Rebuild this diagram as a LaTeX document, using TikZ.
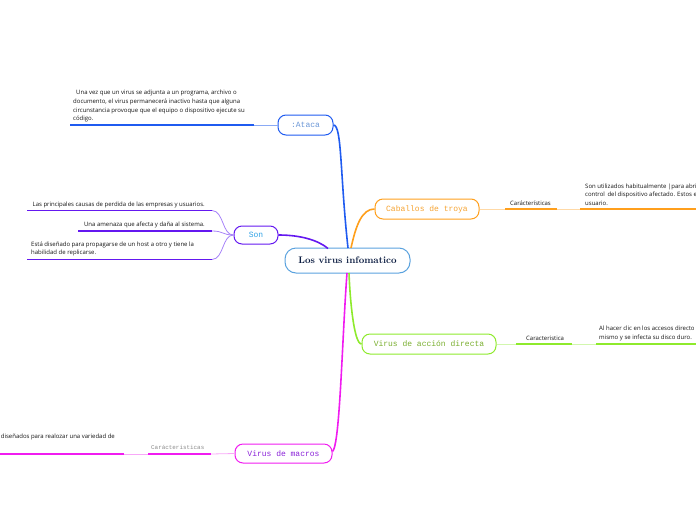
\documentclass[tikz,border=0pt]{standalone}
\usepackage{fontspec}
\setmonofont{Liberation Mono}
\newfontfamily\smallsans{Open Sans}
\definecolor{cblue}{HTML}{1F5BF0}
\definecolor{cbluel}{HTML}{8AAAF5}
\definecolor{cbluet}{HTML}{6A96D6}
\definecolor{cpurp}{HTML}{6418F0}
\definecolor{cpurpl}{HTML}{A884F8}
\definecolor{csont}{HTML}{2FA2E6}
\definecolor{corg}{HTML}{FF9F1C}
\definecolor{corgl}{HTML}{FFD9A6}
\definecolor{corgt}{HTML}{F5A332}
\definecolor{cgrn}{HTML}{8EEA2C}
\definecolor{cgrnl}{HTML}{D2F7AE}
\definecolor{cgrnt}{HTML}{79AE2E}
\definecolor{cmag}{HTML}{F01CF0}
\definecolor{cmagl}{HTML}{F8A8F8}
\definecolor{cmagt}{HTML}{8A22D8}
\definecolor{ccen}{HTML}{5AA2DE}
\definecolor{ccent}{HTML}{0A1B40}
\tikzset{
  topic/.style={draw, line width=1pt, rounded corners=8pt, inner sep=0pt,
    font=\ttfamily\fontsize{8}{9}\selectfont},
  txt/.style={inner sep=0pt, font=\smallsans\fontsize{6}{8.8}\selectfont, text=black!92},
  mainln/.style={line width=1.6pt},
  subln/.style={line width=0.8pt},
  ulthick/.style={line width=1.5pt},
}
\begin{document}
\begin{tikzpicture}[x=1pt,y=-1pt]
\useasboundingbox (0,0) rectangle (696,520);
\clip (0,0) rectangle (696,520);
% central
\node[draw=ccen, line width=1pt, rounded corners=11pt, minimum width=125pt, minimum height=25pt, inner sep=0pt,
  font=\bfseries\fontsize{9.6}{12}\selectfont, text=ccent] (c) at (347.5,260.5) {Los virus infomatico};
% topics
\node[topic, draw=cblue, text=cbluet, minimum width=55pt, minimum height=20pt] (ataca) at (305.5,125) {:Ataca};
\node[topic, draw=cpurp, text=csont, minimum width=44pt, minimum height=18pt] (son) at (256,235) {Son};
\node[topic, draw=corg, text=corgt, minimum width=104pt, minimum height=20pt] (cab) at (427,209) {Caballos de troya};
\node[topic, draw=cgrn, text=cgrnt, minimum width=134pt, minimum height=20pt] (vad) at (429,344) {Virus de acción directa};
\node[topic, draw=cmag, text=cmagt, minimum width=97pt, minimum height=19pt] (vm) at (283.5,453.5) {Virus de macros};
% main connectors
\coordinate (cA) at (348,248);
\coordinate (cS) at (328,248.5);
\coordinate (cC) at (351,248);
\coordinate (cG) at (349,273);
\coordinate (cM) at (347,273);
\draw[mainln, cblue] (ataca.east) .. controls (342,125) and (340,175) .. (cA);
\draw[mainln, cpurp] (son.east) .. controls (300,235) and (318,240) .. (cS);
\draw[mainln, corg] (cab.west) .. controls (362,209) and (356,225) .. (cC);
\draw[mainln, cgrn] (cG) .. controls (350,300) and (354,344) .. (vad.west);
\draw[mainln, cmag] (cM) .. controls (342,340) and (340,445) .. ([yshift=2pt]vm.east);
% Ataca child
\coordinate (a1) at (254,125);
\coordinate (a1e) at (70,125);
\draw[subln, cbluel] (ataca.west) -- (a1);
\draw[ulthick, cblue] (a1) -- (a1e);
\node[txt, anchor=south west, align=left] (ta) at (73,122.5) {\hspace{3pt}Una vez que un virus se adjunta a un programa, archivo o\\documento, el virus permanecerá inactivo hasta que alguna\\circunstancia provoque que el equipo o dispositivo ejecute su\\código.};
% Son children
\coordinate (s1) at (212,210.5);
\coordinate (s1e) at (27,210.5);
\coordinate (s2) at (212,231);
\coordinate (s2e) at (78,231);
\coordinate (s3) at (212,259.5);
\coordinate (s3e) at (27,259.5);
\draw[subln, cpurpl] (son.west) .. controls (222,235) and (224,211) .. (s1);
\draw[subln, cpurpl] (son.west) .. controls (222,235) and (224,231) .. (s2);
\draw[subln, cpurpl] (son.west) .. controls (222,235) and (224,259) .. (s3);
\draw[ulthick, cpurp] (s1) -- (s1e);
\draw[ulthick, cpurp] (s2) -- (s2e);
\draw[ulthick, cpurp] (s3) -- (s3e);
\node[txt, anchor=south east] (ts1) at (205,208) {Las principales causas de perdida de las empresas y usuarios.};
\node[txt, anchor=south east] (ts2) at (205,228) {Una amenaza que afecta y daña al sistema.};
\node[txt, anchor=south west, align=left] (ts3) at (31,256.5) {Está diseñado para propagarse de un host a otro y tiene la\\habilidad de replicarse.};
% Caballos child
\coordinate (o1) at (505,209);
\coordinate (o2) at (557,209);
\coordinate (o3) at (580,209);
\coordinate (o4) at (700,209);
\draw[subln, corgl] (cab.east) -- (o1);
\draw[ulthick, corg] (o1) -- (o2);
\draw[subln, corgl] (o2) -- (o3);
\draw[ulthick, corg] (o3) -- (o4);
\node[txt, anchor=south west] (to1) at (510,206) {Carácterísticas};
\node[txt, anchor=south west, align=left] (to2) at (585,206) {Son utilizados habitualmente |para abrir\\control\, del dispositivo afectado. Estos e\\usuario.};
% Virus accion child
\coordinate (g1) at (516,344);
\coordinate (g2) at (572,344);
\coordinate (g3) at (596,344);
\coordinate (g4) at (700,344);
\draw[subln, cgrnl] (vad.east) -- (g1);
\draw[ulthick, cgrn] (g1) -- (g2);
\draw[subln, cgrnl] (g2) -- (g3);
\draw[ulthick, cgrn] (g3) -- (g4);
\node[txt, anchor=south west] (tg1) at (526,341) {Caracteristica};
\node[txt, anchor=south west, align=left] (tg2) at (599,341) {Al hacer clic en los accesos directo\\mismo y se infecta su disco duro.};
% Macros child
\coordinate (m1) at (211,454);
\coordinate (m2) at (148,454);
\coordinate (m3) at (124,454);
\coordinate (m4) at (-5,454);
\draw[subln, cmagl] (vm.west) -- (m1);
\draw[ulthick, cmag] (m1) -- (m2);
\draw[subln, cmagl] (m2) -- (m3);
\draw[ulthick, cmag] (m3) -- (m4);
\node[inner sep=0pt, anchor=south west, font=\ttfamily\fontsize{5.9}{7}\selectfont, text=black!45] (tm1) at (151,450) {Carácteristicas};
\node[txt, anchor=south east] (tm2) at (115,440.5) {diseñados para realozar una variedad de};
\end{tikzpicture}
\end{document}
